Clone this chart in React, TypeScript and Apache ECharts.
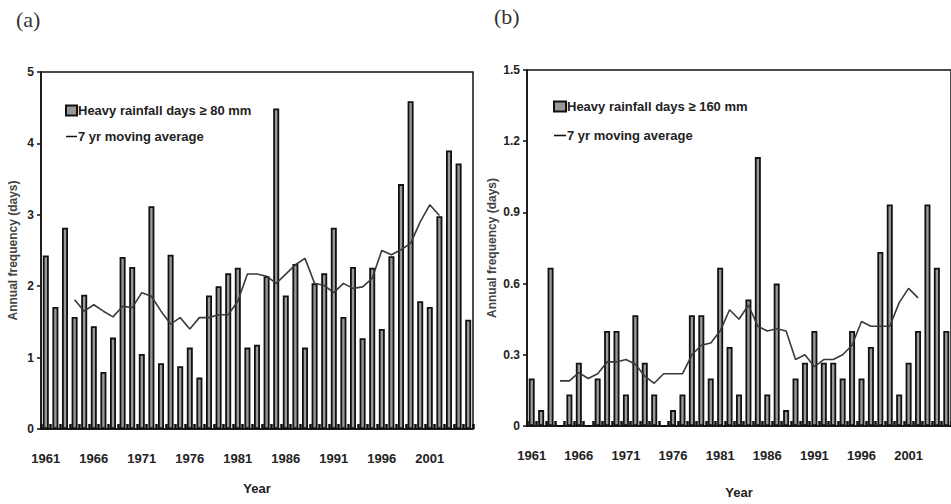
import React, { useEffect, useRef } from "react";
import * as echarts from "echarts";

const years = [
  "1961","1962","1963","1964","1965","1966","1967","1968","1969","1970",
  "1971","1972","1973","1974","1975","1976","1977","1978","1979","1980",
  "1981","1982","1983","1984","1985","1986","1987","1988","1989","1990",
  "1991","1992","1993","1994","1995","1996","1997","1998","1999","2000",
  "2001","2002","2003","2004","2005",
];

const heavy80 = [
  2.43, 1.71, 2.82, 1.57, 1.88, 1.44, 0.8, 1.28, 2.41, 2.27,
  1.05, 3.12, 0.92, 2.44, 0.88, 1.14, 0.72, 1.87, 2.0, 2.18,
  2.26, 1.14, 1.18, 2.14, 4.49, 1.87, 2.31, 1.14, 2.04, 2.18,
  2.82, 1.57, 2.27, 1.27, 2.26, 1.4, 2.42, 3.43, 4.59, 1.79,
  1.71, 2.98, 3.9, 3.72, 1.53,
];

const ma80 = [
  null, null, null, 1.81, 1.65, 1.74, 1.65, 1.57, 1.72, 1.7,
  1.91, 1.86, 1.65, 1.47, 1.56, 1.4, 1.56, 1.56, 1.6, 1.6,
  1.79, 2.17, 2.17, 2.14, 2.04, 2.17, 2.3, 2.39, 2.04, 2.01,
  1.91, 2.04, 1.97, 1.99, 2.11, 2.5, 2.44, 2.51, 2.6, 2.9,
  3.14, 2.99, null, null, null,
];

const heavy160 = [
  0.2, 0.067, 0.667, 0, 0.133, 0.267, 0, 0.2, 0.4, 0.4,
  0.133, 0.467, 0.267, 0.133, 0, 0.067, 0.133, 0.467, 0.467, 0.2,
  0.667, 0.333, 0.133, 0.533, 1.133, 0.133, 0.6, 0.067, 0.2, 0.267,
  0.4, 0.267, 0.267, 0.2, 0.4, 0.2, 0.333, 0.733, 0.933, 0.133,
  0.267, 0.4, 0.933, 0.667, 0.4,
];

const ma160 = [
  null, null, null, 0.19, 0.19, 0.225, 0.2, 0.22, 0.27, 0.27,
  0.28, 0.26, 0.21, 0.18, 0.22, 0.22, 0.22, 0.3, 0.34, 0.35,
  0.4, 0.49, 0.45, 0.51, 0.42, 0.4, 0.41, 0.4, 0.28, 0.3,
  0.25, 0.28, 0.28, 0.3, 0.34, 0.44, 0.42, 0.42, 0.42, 0.52,
  0.58, 0.54, null, null, null,
];

const nameA = "Heavy rainfall days \u2265 80 mm";
const nameB = "Heavy rainfall days \u2265 160 mm";
const nameMA = "7 yr moving average";

const FONT = "'Liberation Sans Narrow', 'Liberation Sans', Arial, sans-serif";
const TXT = "#222";

function xAxisCfg(gridIndex: number, gap: number) {
  return {
    type: "category",
    gridIndex,
    data: years,
    boundaryGap: true,
    name: "Year",
    nameLocation: "middle",
    nameGap: gap,
    nameTextStyle: { fontFamily: FONT, fontSize: 13, fontWeight: "bold", color: TXT },
    axisLine: { show: true, lineStyle: { color: "#111", width: 1.5 } },
    axisTick: { show: true, interval: 0, inside: true, length: 5, lineStyle: { color: "#111", width: 2.5 } },
    axisLabel: {
      interval: 4,
      margin: 23,
      fontFamily: FONT,
      fontSize: 13,
      fontWeight: "bold",
      color: TXT,
    },
    splitLine: { show: false },
  };
}

function yAxisCfg(gridIndex: number, max: number, interval: number, gap: number) {
  return {
    type: "value",
    gridIndex,
    min: 0,
    max,
    interval,
    name: "Annual frequency (days)",
    nameLocation: "middle",
    nameGap: gap,
    nameRotate: 90,
    nameTextStyle: { fontFamily: FONT, fontSize: 12, fontWeight: "bold", color: "#444" },
    axisLine: { show: true, lineStyle: { color: "#111", width: 1.5 } },
    axisTick: { show: true, inside: false, length: 4, lineStyle: { color: "#111", width: 1.5 } },
    axisLabel: { margin: 7, fontFamily: FONT, fontSize: 12, fontWeight: "bold", color: TXT },
    splitLine: { show: false },
  };
}

const barStyle = { color: "#999999", borderColor: "#111", borderWidth: 1.8 };
const lineStyle = { color: "#3a3a3a", width: 1.6 };
const legendText = { fontFamily: FONT, fontSize: 13, fontWeight: "bold", color: TXT, padding: [0, 0, 0, -4] };

export default function App() {
  const ref = useRef<HTMLDivElement>(null);

  useEffect(() => {
    if (!ref.current) return;
    const chart = echarts.init(ref.current, null, { renderer: "svg" });
    chart.setOption({
      animation: false,
      backgroundColor: "#ffffff",
      grid: [
        { left: 41, top: 72, width: 432, height: 357, show: true, borderColor: "#111", borderWidth: 1.5, backgroundColor: "transparent" },
        { left: 527, top: 70, width: 430, height: 361, show: true, borderColor: "#111", borderWidth: 1.5, backgroundColor: "transparent" },
      ],
      xAxis: [xAxisCfg(0, 53), xAxisCfg(1, 60)],
      yAxis: [yAxisCfg(0, 5, 1, 22), yAxisCfg(1, 1.5, 0.3, 29)],
      legend: [
        {
          orient: "vertical",
          left: 60,
          top: 99,
          itemGap: 13,
          itemWidth: 11,
          itemHeight: 10,
          textStyle: legendText,
          data: [
            { name: nameA, icon: "rect" },
            { name: nameMA, icon: "path://M0 0 H12 V1.6 H0 Z", itemStyle: { color: "#111" } },
          ],
          selectedMode: false,
        },
        {
          orient: "vertical",
          left: 548,
          top: 95,
          itemGap: 16,
          itemWidth: 12,
          itemHeight: 10,
          textStyle: legendText,
          data: [
            { name: nameB, icon: "rect" },
            { name: nameMA, icon: "path://M0 0 H12 V1.6 H0 Z", itemStyle: { color: "#111" } },
          ],
          selectedMode: false,
        },
      ],
      graphic: [
        { type: "text", left: 16, top: 8, style: { text: "(a)", fontFamily: "'Liberation Serif', 'DejaVu Serif', serif", fontSize: 22, fill: "#333" } },
        { type: "text", left: 494, top: 5, style: { text: "(b)", fontFamily: "'Liberation Serif', 'DejaVu Serif', serif", fontSize: 22, fill: "#333" } },
      ],
      series: [
        { name: nameA, type: "bar", xAxisIndex: 0, yAxisIndex: 0, data: heavy80, barWidth: 6, itemStyle: barStyle },
        { name: nameMA, type: "line", xAxisIndex: 0, yAxisIndex: 0, data: ma80, showSymbol: false, symbol: "none", connectNulls: false, lineStyle, itemStyle: { color: "#111" }, z: 5 },
        { name: nameB, type: "bar", xAxisIndex: 1, yAxisIndex: 1, data: heavy160, barWidth: 6, itemStyle: barStyle },
        { name: nameMA, type: "line", xAxisIndex: 1, yAxisIndex: 1, data: ma160, showSymbol: false, symbol: "none", connectNulls: false, lineStyle, itemStyle: { color: "#111" }, z: 5 },
      ],
    });
    return () => chart.dispose();
  }, []);

  return (
    <div
      ref={ref}
      style={{ position: "fixed", left: 0, top: 0, width: 951, height: 504, background: "#fff" }}
    />
  );
}
